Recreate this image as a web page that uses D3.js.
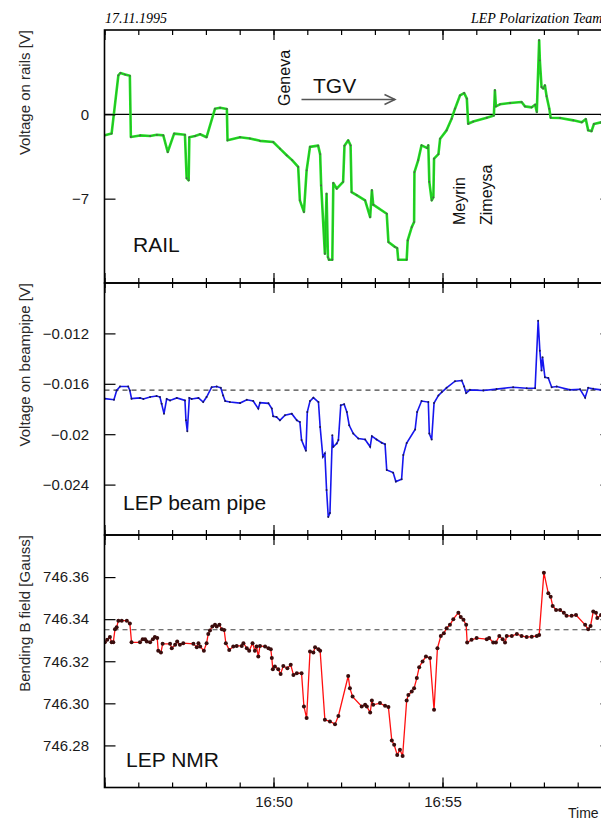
<!DOCTYPE html>
<html>
<head>
<meta charset="utf-8">
<script src="https://cdn.jsdelivr.net/npm/d3@7"></script>
<style>
  body { margin: 0; background: #fff; }
  svg { display: block; font-family: "Liberation Sans", Arial, Helvetica, sans-serif; }
</style>
</head>
<body>
<script>
// minutes after 16:45, value
const railData = [[0.01,-1.74],[0.21,-1.6],[0.41,3.24],[0.47,3.43],[0.61,3.3],[0.75,3.2],[0.78,-1.88],[1.05,-1.75],[1.35,-1.8],[1.55,-1.7],[1.74,-1.75],[1.87,-3.13],[2.06,-1.6],[2.38,-1.7],[2.43,-5.3],[2.49,-5.48],[2.51,-1.9],[2.68,-1.8],[2.83,-1.65],[3.02,-1.9],[3.27,0.47],[3.42,0.55],[3.62,0.45],[3.64,-2.16],[4.01,-1.9],[4.3,-2.0],[4.6,-2.2],[4.99,-2.3],[5.19,-2.85],[5.39,-3.4],[5.55,-3.8],[5.73,-4.37],[5.78,-7.14],[5.9,-8.1],[5.98,-4.65],[6.08,-2.7],[6.32,-2.6],[6.38,-3.3],[6.41,-5.9],[6.52,-11.57],[6.57,-6.6],[6.61,-11.85],[6.64,-12.07],[6.74,-12.07],[6.77,-5.7],[6.87,-6.17],[7.06,-5.6],[7.1,-2.6],[7.21,-2.16],[7.28,-2.57],[7.31,-6.45],[7.46,-6.7],[7.71,-7.14],[7.86,-8.53],[7.91,-6.3],[7.95,-7.5],[8.35,-8.25],[8.4,-10.6],[8.59,-11.0],[8.66,-11.1],[8.69,-12.07],[8.94,-12.07],[8.97,-10.47],[9.09,-9.36],[9.16,-8.94],[9.17,-4.79],[9.28,-3.82],[9.38,-2.57],[9.55,-2.8],[9.58,-2.57],[9.61,-5.6],[9.68,-7.14],[9.73,-6.9],[9.75,-3.68],[9.88,-3.3],[9.93,-2.02],[10.12,-1.33],[10.27,-0.36],[10.37,0.47],[10.52,1.58],[10.64,1.77],[10.72,1.3],[10.76,-0.78],[10.91,-0.6],[11.31,-0.28],[11.52,-0.1],[11.55,2.0],[11.58,0.66],[11.7,0.83],[12.0,0.94],[12.34,1.02],[12.44,0.66],[12.64,0.58],[12.74,0.8],[12.79,0.19],[12.86,6.15],[12.88,4.48],[12.93,2.27],[12.98,2.15],[13.03,2.4],[13.08,1.5],[13.16,0.47],[13.2,-0.28],[13.48,-0.3],[13.87,-0.5],[14.12,-0.66],[14.24,-0.4],[14.31,-1.33],[14.41,-1.4],[14.48,-0.8],[14.69,-0.66],[15.0,-0.7]]

const pipeData = [[0.01,-0.01718],[0.28,-0.01726],[0.36,-0.01653],[0.46,-0.01621],[0.7,-0.01621],[0.75,-0.01653],[0.8,-0.01718],[1.05,-0.01712],[1.15,-0.0172],[1.35,-0.01705],[1.54,-0.01697],[1.64,-0.01705],[1.69,-0.01758],[1.76,-0.01837],[1.84,-0.0172],[1.94,-0.01732],[2.14,-0.01712],[2.38,-0.01732],[2.41,-0.0189],[2.45,-0.01976],[2.51,-0.01712],[2.58,-0.0172],[2.78,-0.01712],[2.92,-0.01745],[3.02,-0.01705],[3.17,-0.01627],[3.32,-0.01621],[3.44,-0.01632],[3.51,-0.01693],[3.57,-0.01737],[3.71,-0.01745],[4.01,-0.01753],[4.21,-0.01727],[4.4,-0.01737],[4.55,-0.01797],[4.6,-0.0175],[4.85,-0.01755],[4.95,-0.01797],[4.99,-0.01858],[5.09,-0.01863],[5.19,-0.0189],[5.34,-0.0185],[5.54,-0.01837],[5.69,-0.0189],[5.78,-0.01903],[5.83,-0.02047],[5.96,-0.02132],[6.0,-0.01824],[6.08,-0.01737],[6.18,-0.0171],[6.33,-0.01745],[6.38,-0.01942],[6.46,-0.02179],[6.52,-0.02153],[6.57,-0.02442],[6.62,-0.02657],[6.67,-0.02626],[6.74,-0.02008],[6.77,-0.021],[6.87,-0.02074],[6.92,-0.02047],[6.99,-0.01771],[7.09,-0.01763],[7.17,-0.01824],[7.24,-0.01929],[7.36,-0.01995],[7.51,-0.02034],[7.71,-0.02042],[7.86,-0.021],[7.91,-0.02016],[8.05,-0.02042],[8.2,-0.02068],[8.3,-0.02079],[8.35,-0.02284],[8.54,-0.02305],[8.62,-0.02376],[8.79,-0.02358],[8.84,-0.02166],[8.94,-0.0207],[9.19,-0.01963],[9.25,-0.01824],[9.38,-0.01737],[9.58,-0.01745],[9.61,-0.01995],[9.68,-0.02042],[9.75,-0.01753],[9.88,-0.01692],[9.98,-0.01666],[10.12,-0.01632],[10.37,-0.01579],[10.57,-0.01574],[10.64,-0.01621],[10.7,-0.01674],[10.81,-0.01648],[11.21,-0.01653],[11.6,-0.01642],[12.09,-0.01627],[12.49,-0.01635],[12.74,-0.01635],[12.83,-0.011],[12.88,-0.01337],[12.93,-0.01495],[12.96,-0.0139],[13.03,-0.01548],[13.13,-0.01553],[13.23,-0.01627],[13.38,-0.01621],[13.77,-0.01648],[14.07,-0.01643],[14.22,-0.0171],[14.31,-0.01632],[14.46,-0.0164],[14.69,-0.01648],[15.0,-0.01648]]

const nmrData = [[0.01,746.329],[0.08,746.3302],[0.16,746.3315],[0.21,746.329],[0.26,746.329],[0.31,746.3352],[0.36,746.3362],[0.41,746.3393],[0.51,746.3393],[0.66,746.3393],[0.75,746.338],[0.8,746.329],[1.05,746.329],[1.13,746.3305],[1.2,746.3305],[1.25,746.3294],[1.35,746.329],[1.43,746.3305],[1.49,746.3315],[1.56,746.331],[1.59,746.325],[1.67,746.3241],[1.72,746.3283],[1.94,746.3283],[1.99,746.3262],[2.09,746.3278],[2.15,746.3294],[2.23,746.3278],[2.33,746.3286],[2.63,746.3283],[2.73,746.3267],[2.78,746.3286],[2.83,746.327],[2.94,746.325],[3.02,746.3286],[3.07,746.333],[3.12,746.3346],[3.19,746.3365],[3.27,746.3373],[3.32,746.3365],[3.4,746.3373],[3.47,746.3352],[3.54,746.3349],[3.59,746.3286],[3.69,746.3254],[3.81,746.327],[3.91,746.3273],[4.06,746.3273],[4.11,746.3286],[4.21,746.3262],[4.28,746.325],[4.38,746.3286],[4.45,746.325],[4.5,746.327],[4.55,746.3222],[4.6,746.3273],[4.75,746.327],[4.85,746.3262],[4.92,746.3257],[4.95,746.3215],[4.98,746.3162],[5.04,746.3175],[5.14,746.3162],[5.21,746.314],[5.29,746.3178],[5.41,746.3167],[5.51,746.3183],[5.59,746.3135],[5.69,746.3143],[5.83,746.3143],[5.9,746.2985],[5.98,746.293],[6.08,746.3246],[6.18,746.3241],[6.23,746.3267],[6.33,746.3257],[6.38,746.325],[6.52,746.2922],[6.67,746.2914],[6.82,746.2901],[6.92,746.294],[7.21,746.313],[7.26,746.3072],[7.34,746.3032],[7.61,746.2985],[7.71,746.2993],[7.76,746.2985],[7.86,746.2956],[7.91,746.3013],[7.95,746.2993],[8.15,746.3001],[8.3,746.2988],[8.4,746.2982],[8.5,746.2823],[8.57,746.2803],[8.66,746.2755],[8.74,746.2779],[8.82,746.275],[8.94,746.3013],[8.99,746.304],[9.09,746.3056],[9.16,746.3072],[9.24,746.312],[9.31,746.3172],[9.41,746.3199],[9.51,746.3222],[9.63,746.3215],[9.75,746.2969],[9.85,746.3262],[9.95,746.332],[10.04,746.3333],[10.12,746.3357],[10.22,746.3373],[10.32,746.34],[10.47,746.3431],[10.54,746.341],[10.62,746.3397],[10.7,746.3373],[10.73,746.3289],[10.86,746.3302],[11.01,746.331],[11.31,746.3305],[11.38,746.331],[11.5,746.3289],[11.58,746.3289],[11.68,746.332],[11.78,746.3305],[11.85,746.3289],[11.9,746.332],[12.05,746.332],[12.2,746.333],[12.34,746.332],[12.49,746.3315],[12.64,746.3317],[12.79,746.332],[12.86,746.3325],[13.0,746.3621],[13.13,746.3523],[13.2,746.3507],[13.26,746.3463],[13.36,746.3444],[13.48,746.3444],[13.59,746.3431],[13.67,746.3416],[13.82,746.3416],[13.95,746.342],[14.22,746.3373],[14.31,746.3352],[14.38,746.3368],[14.46,746.3436],[14.54,746.3431],[14.58,746.3405],[14.69,746.342]]

const railTicks = [0, -7]
const railLabels = ["0", "\u22127"]
const pipeTicks = [-0.012, -0.016, -0.02, -0.024]
const pipeLabels = ["\u22120.012", "\u22120.016", "\u22120.02", "\u22120.024"]
const nmrTicks = [746.36, 746.34, 746.32, 746.30, 746.28]
const nmrLabels = ["746.36", "746.34", "746.32", "746.30", "746.28"]
const timeLabels = ["16:50", "16:55"]

const pipeRef = -0.0165
const nmrRef = 746.335

const width = 601
const height = 823
const left = 104.5, right = 611.5

const t0 = new Date(1995, 10, 17, 16, 45)
const toDate = m => new Date(t0.getTime() + m * 60000)

const x = d3.scaleTime()
    .domain([t0, toDate(15)])
    .range([left, right])

const panels = [
    { data: railData, top: 30, bottom: 283, domain: [-14, 7], ticks: railTicks, labels: railLabels,
      title: "Voltage on rails [V]", name: "RAIL" },
    { data: pipeData, top: 283, bottom: 535, domain: [-0.028, -0.008], ticks: pipeTicks, labels: pipeLabels,
      title: "Voltage on beampipe [V]", name: "LEP beam pipe", ref: pipeRef },
    { data: nmrData, top: 535, bottom: 787.5, domain: [746.26, 746.38], ticks: nmrTicks, labels: nmrLabels,
      title: "Bending B field [Gauss]", name: "LEP NMR", ref: nmrRef }
]

const svg = d3.select("body").append("svg")
    .attr("width", width)
    .attr("height", height)

svg.append("defs").append("clipPath").attr("id", "clip")
    .append("rect").attr("x", left).attr("y", 30).attr("width", right - left).attr("height", 787.5 - 30)

// header
svg.append("text").attr("x", 105).attr("y", 23)
    .style("font-family", "'Liberation Serif', 'Times New Roman', serif")
    .style("font-style", "italic").style("font-size", "14px")
    .text("17.11.1995")
svg.append("text").attr("x", 471).attr("y", 23)
    .style("font-family", "'Liberation Serif', 'Times New Roman', serif")
    .style("font-style", "italic").style("font-size", "14px")
    .text("LEP Polarization Team")

panels.forEach((p, i) => {
    p.y = d3.scaleLinear().domain(p.domain).range([p.bottom, p.top])
    const g = svg.append("g")

    // reference lines
    if (i === 0) {
        g.append("line").attr("x1", left).attr("x2", right)
            .attr("y1", p.y(0)).attr("y2", p.y(0))
            .style("stroke", "#000").style("stroke-width", 1.3)
    } else {
        g.append("line").attr("x1", left).attr("x2", right)
            .attr("y1", p.y(p.ref)).attr("y2", p.y(p.ref))
            .style("stroke", "#444").style("stroke-width", 1.1)
            .style("stroke-dasharray", "5,4")
    }

    const line = d3.line()
        .x(d => x(toDate(d[0])))
        .y(d => p.y(d[1]))

    const series = g.append("g").attr("clip-path", "url(#clip)")
    if (i === 0) {
        series.append("path").datum(p.data).attr("d", line)
            .style("fill", "none").style("stroke", "#22e322").style("stroke-width", 2.6)
            .style("stroke-linejoin", "round")
        series.append("path").datum(p.data).attr("d", line)
            .style("fill", "none").style("stroke", "#2d6b2d").style("stroke-width", 0.6)
            .style("stroke-opacity", 0.6)
        series.selectAll("circle").data(p.data).enter().append("circle")
            .attr("cx", d => x(toDate(d[0]))).attr("cy", d => p.y(d[1]))
            .attr("r", 0.9).style("fill", "#555")
    } else if (i === 1) {
        series.append("path").datum(p.data).attr("d", line)
            .style("fill", "none").style("stroke", "#1616ee").style("stroke-width", 1.6)
        series.selectAll("circle").data(p.data).enter().append("circle")
            .attr("cx", d => x(toDate(d[0]))).attr("cy", d => p.y(d[1]))
            .attr("r", 1).style("fill", "#1a1a55")
    } else {
        series.append("path").datum(p.data).attr("d", line)
            .style("fill", "none").style("stroke", "#ff1010").style("stroke-width", 1.3)
        series.selectAll("circle").data(p.data).enter().append("circle")
            .attr("cx", d => x(toDate(d[0]))).attr("cy", d => p.y(d[1]))
            .attr("r", 2).style("fill", "#3a0d0d")
    }

    // x ticks on top and bottom edge of each panel
    const minor = d3.timeMinute.every(1), major = d3.timeMinute.every(5)
    const addX = (axisFn, ypos, size, every) => {
        const a = g.append("g").attr("transform", `translate(0,${ypos})`)
            .call(axisFn(x).ticks(every).tickSize(-size).tickFormat(""))
        a.select(".domain").remove()
        a.selectAll(".tick line").style("stroke", "#000").style("stroke-width", 1.2)
    }
    addX(d3.axisBottom, p.bottom, 5, minor)
    addX(d3.axisBottom, p.bottom, 10, major)
    addX(d3.axisTop, p.top, 5, minor)
    addX(d3.axisTop, p.top, 10, major)

    // y ticks
    const ya = g.append("g").attr("transform", `translate(${left},0)`)
        .call(d3.axisLeft(p.y).tickValues(p.ticks).tickSize(-11).tickPadding(15.5)
            .tickFormat((d, k) => p.labels[k]))
    ya.select(".domain").remove()
    ya.selectAll(".tick line").style("stroke", "#000").style("stroke-width", 1.2)
    ya.selectAll("text").style("font-size", "15px").style("fill", "#1a1a1a")
        .style("font-family", "'Liberation Sans', Arial, sans-serif")

    const yr = g.append("g").attr("transform", `translate(${right},0)`)
        .call(d3.axisRight(p.y).tickValues(p.ticks).tickSize(-11).tickFormat(""))
    yr.select(".domain").remove()
    yr.selectAll(".tick line").style("stroke", "#000").style("stroke-width", 1.2)

    // frame
    g.append("rect").attr("x", left).attr("y", p.top)
        .attr("width", right - left).attr("height", p.bottom - p.top)
        .style("fill", "none").style("stroke", "#000").style("stroke-width", 1.6)

    // y title
    svg.append("text")
        .attr("transform", `translate(30,${p.top}) rotate(-90)`)
        .attr("text-anchor", "end")
        .style("font-size", "15px").style("fill", "#2a2a2a")
        .text(p.title)

    // panel name
    svg.append("text").attr("x", i === 0 ? 133 : i === 1 ? 123 : 126)
        .attr("y", i === 0 ? 251.5 : i === 1 ? 510 : 767)
        .style("font-size", "21px").style("fill", "#111")
        .text(p.name)
})

// time axis labels
const xl = svg.append("g").attr("transform", "translate(0,787.5)")
    .call(d3.axisBottom(x)
        .tickValues([toDate(5), toDate(10)])
        .tickSize(0).tickPadding(9)
        .tickFormat((d, k) => timeLabels[k]))
xl.select(".domain").remove()
xl.selectAll("text").style("font-size", "15px").style("fill", "#1a1a1a")
    .style("font-family", "'Liberation Sans', Arial, sans-serif")

svg.append("text").attr("x", 568).attr("y", 818)
    .style("font-size", "14px").style("fill", "#1a1a1a")
    .text("Time")

// annotations in the rail panel
const rot = (txt, px, py) => svg.append("text")
    .attr("transform", `translate(${px},${py}) rotate(-90)`)
    .style("font-size", "16px").style("fill", "#111")
    .text(txt)
rot("Geneva", 290, 106)
rot("Meyrin", 465, 225)
rot("Zimeysa", 491.5, 225)

svg.append("text").attr("x", 313).attr("y", 93)
    .style("font-size", "21px").style("fill", "#111")
    .text("TGV")

const arrow = svg.append("g").style("stroke", "#555").style("stroke-width", 1.5).style("fill", "none")
arrow.append("line").attr("x1", 301.5).attr("x2", 395).attr("y1", 99.5).attr("y2", 99.5)
arrow.append("polyline").attr("points", "384.5,94.5 395,99.5 384.5,104.5")
</script>
</body>
</html>
